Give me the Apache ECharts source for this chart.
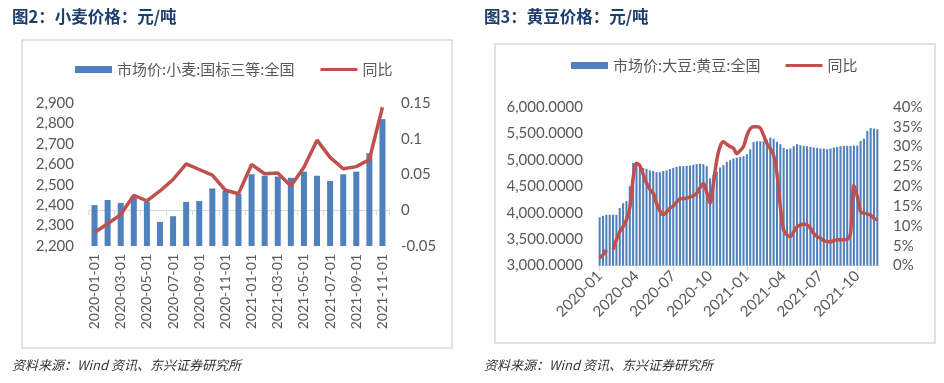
<!DOCTYPE html>
<html><head><meta charset="utf-8">
<script src="https://cdn.jsdelivr.net/npm/echarts@6/dist/echarts.min.js"></script>
<style>html,body{margin:0;padding:0;background:#fff}#c{width:944px;height:383px}</style>
</head><body><div id="c"></div>
<script>
// ---- Figure 2: wheat ----
const wheatCats = ['2020-01-01','2020-02-01','2020-03-01','2020-04-01','2020-05-01','2020-06-01','2020-07-01','2020-08-01','2020-09-01','2020-10-01','2020-11-01','2020-12-01','2021-01-01','2021-02-01','2021-03-01','2021-04-01','2021-05-01','2021-06-01','2021-07-01','2021-08-01','2021-09-01','2021-10-01','2021-11-01'];
const wheatPrice = [2400,2425,2411,2445,2416,2318,2346,2416,2420,2482,2470,2455,2551,2544,2540,2534,2564,2544,2518,2551,2564,2654,2821];
const wheatYoY = [-0.031,-0.019,-0.006,0.021,0.013,0.027,0.043,0.065,0.057,0.049,0.028,0.023,0.064,0.051,0.052,0.034,0.060,0.098,0.074,0.058,0.061,0.071,0.144];

// ---- Figure 3: soybean ----
const soyTickLabels = ['2020-01','2020-04','2020-07','2020-10','2021-01','2021-04','2021-07','2021-10'];
const soyPrice = [
 3913,3940,3960,3960,3960,3960,4090,4180,4220,4500,
 4940,4900,4900,4845,4830,4800,4790,4765,4765,4790,
 4800,4825,4849,4868,4881,4881,4887,4894,4906,4919,
 4925,4919,4880,4650,4720,4774,4855,4900,4962,4994,
 5025,5040,5057,5070,5107,5200,5340,5352,5352,5352,
 5380,5421,5400,5340,5296,5226,5201,5214,5258,5296,
 5277,5264,5258,5245,5233,5226,5214,5214,5201,5214,
 5233,5245,5258,5264,5264,5264,5270,5270,5358,5400,
 5547,5604,5591,5579];
const soyYoY = [
 1.9,2.7,3.9,null,4.0,6.5,8.5,9.8,11.5,14.5,
 22.0,25.8,25.2,23.0,20.8,19.2,18.2,15.7,13.8,12.8,
 13.5,14.5,15.0,16.0,16.8,16.9,17.0,17.3,17.6,18.2,
 19.6,20.7,18.5,15.7,20.7,26.6,30.0,31.2,30.6,30.0,
 29.6,28.2,29.0,30.0,32.8,34.5,35.0,35.0,34.7,32.9,
 30.8,29.5,27.8,23.2,14.8,9.0,7.7,7.3,8.5,9.8,
 10.2,10.5,10.2,9.4,8.1,7.3,6.9,6.3,6.0,6.0,
 6.3,6.5,6.5,6.5,6.6,8.1,20.3,17.4,13.6,13.2,
 13.0,12.7,11.9,11.5];
const PER_Q = 11;
const soyCats = soyPrice.map((v, i) => soyTickLabels[Math.floor(i / PER_Q)] + '|' + (i % PER_Q));

const BLUE = '#4f81bd', RED = '#c0504d', GREY = '#595959', AX = '#d9d9d9';
const axisFont = 'Lato';
const LINE_ICON = 'path://M0,0H40V3.2H0Z';
const chart = echarts.init(document.getElementById('c'));
chart.setOption({
  backgroundColor: '#fff',
  animation: false,
  graphic: [
    {type:'rect', shape:{x:22,y:40,width:430,height:308}, style:{fill:'none', stroke:AX, lineWidth:1.5}},
    {type:'rect', shape:{x:495,y:44,width:440,height:299}, style:{fill:'none', stroke:AX, lineWidth:1.5}},
    {type:'text', left:12, top:8, style:{text:'图2：小麦价格：元/吨', fill:'#1c3f6e', font:'bold 16.5px "Noto Sans CJK SC"'}},
    {type:'text', left:484, top:8, style:{text:'图3：黄豆价格：元/吨', fill:'#1c3f6e', font:'bold 16.5px "Noto Sans CJK SC"'}},
    {type:'text', left:12, top:359, style:{text:'资料来源：Wind 资讯、东兴证券研究所', fill:'#333', font:'italic 13px "Noto Sans CJK SC"'}},
    {type:'text', left:484, top:359, style:{text:'资料来源：Wind 资讯、东兴证券研究所', fill:'#333', font:'italic 13px "Noto Sans CJK SC"'}}
  ],
  legend: [
    {left:70, top:57, itemWidth:37, itemHeight:7, itemGap:26,
     data:[{name:'市场价:小麦:国标三等:全国', icon:'rect'},{name:'同比', icon:LINE_ICON}],
     textStyle:{color:GREY, fontSize:15, fontFamily:'Noto Sans CJK SC'}},
    {left:566, top:53, itemWidth:37, itemHeight:7, itemGap:25,
     data:[{name:'市场价:大豆:黄豆:全国', icon:'rect'},{name:'同比 ', icon:LINE_ICON}],
     textStyle:{color:GREY, fontSize:15, fontFamily:'Noto Sans CJK SC'}}
  ],
  grid: [
    {left:88, right:555, top:103, bottom:137},
    {left:598, right:65, top:107, bottom:117.5}
  ],
  xAxis: [
    {type:'category', gridIndex:0, data:wheatCats,
     axisLine:{lineStyle:{color:AX}}, axisTick:{show:true, length:5, lineStyle:{color:AX}},
     axisLabel:{rotate:90, interval:1, color:GREY, fontSize:14, fontFamily:axisFont, margin:8}},
    {type:'category', gridIndex:1, data:soyCats,
     axisLine:{lineStyle:{color:AX}},
     axisTick:{show:true, length:5, alignWithLabel:true, interval:(i)=>i%PER_Q===0, lineStyle:{color:AX}},
     axisLabel:{rotate:45, interval:(i)=>i%PER_Q===0, color:GREY, fontSize:15, fontFamily:axisFont, margin:8,
       formatter:(v)=>v.split('|')[0]}}
  ],
  yAxis: [
    {type:'value', gridIndex:0, min:2200, max:2900, interval:100, splitLine:{show:false},
     axisLine:{show:false}, axisTick:{show:false},
     axisLabel:{color:GREY, fontSize:15, fontFamily:axisFont, margin:14, formatter:(v)=>v.toLocaleString('en-US')}},
    {type:'value', gridIndex:0, min:-0.05, max:0.15, interval:0.05, splitLine:{show:false},
     axisLine:{show:false}, axisTick:{show:false},
     axisLabel:{color:GREY, fontSize:15, fontFamily:axisFont, margin:12, formatter:(v)=>String(+v.toFixed(2))}},
    {type:'value', gridIndex:1, min:3000, max:6000, interval:500, splitLine:{show:false},
     axisLine:{show:false}, axisTick:{show:false},
     axisLabel:{color:GREY, fontSize:15, fontFamily:axisFont, margin:15,
       formatter:(v)=>v.toLocaleString('en-US',{minimumFractionDigits:4, maximumFractionDigits:4})}},
    {type:'value', gridIndex:1, min:0, max:40, interval:5, splitLine:{show:false},
     axisLine:{show:false}, axisTick:{show:false},
     axisLabel:{color:GREY, fontSize:15, fontFamily:axisFont, margin:14, formatter:'{value}%'}}
  ],
  series: [
    {name:'市场价:小麦:国标三等:全国', type:'bar', xAxisIndex:0, yAxisIndex:0, data:wheatPrice,
     barWidth:'46%', itemStyle:{color:BLUE}},
    {name:'同比', type:'line', xAxisIndex:0, yAxisIndex:1, data:wheatYoY, symbol:'none',
     lineStyle:{color:RED, width:3.5}, itemStyle:{color:RED}},
    {name:'市场价:大豆:黄豆:全国', type:'bar', xAxisIndex:1, yAxisIndex:2, data:soyPrice,
     barWidth:'62%', itemStyle:{color:BLUE}},
    {name:'同比 ', type:'line', xAxisIndex:1, yAxisIndex:3, data:soyYoY, symbol:'none', smooth:0.3,
     connectNulls:false, lineStyle:{color:RED, width:3.5}, itemStyle:{color:RED}}
  ]
});
</script></body></html>
